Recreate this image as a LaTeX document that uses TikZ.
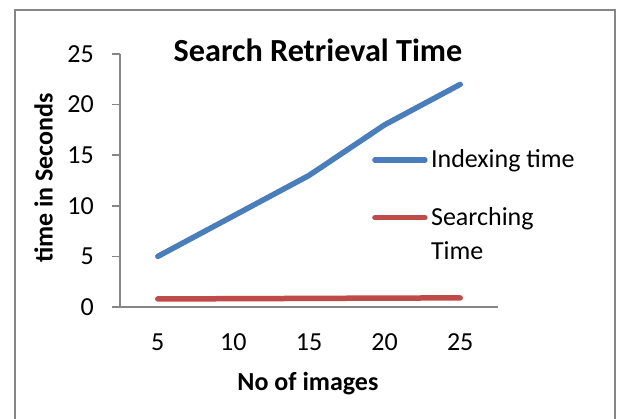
\documentclass[tikz,border=0pt]{standalone}
\usepackage{fontspec}
\setmainfont{Carlito}
\definecolor{idxblue}{RGB}{74,126,187}
\definecolor{srchred}{RGB}{190,75,72}
\definecolor{axisgray}{RGB}{134,134,134}
\begin{document}
\begin{tikzpicture}[x=15.12bp,y=10.12bp,
  lab/.style={font=\fontsize{26bp}{33.6bp}\selectfont,inner sep=0pt},
  boldlab/.style={font=\fontsize{26bp}{33.6bp}\selectfont\bfseries,inner sep=0pt},
  series/.style={line width=5.5bp,line cap=round,line join=round}]
\clip (-5.437,-11.067) rectangle (35.37,30.336);
\draw[axisgray,line width=2bp] (-4.44,-13) -- (-4.44,29.35) -- (35.27,29.35) -- (35.27,-13);
\draw[axisgray,line width=1.5bp] (2.5,25) -- (2.5,0) -- (27.5,0);
\foreach \y in {0,5,...,25} \draw[axisgray,line width=1.5bp] (1.97,\y) -- (2.5,\y);
\foreach \y in {0,5,...,25} \node[lab,anchor=east] (ytick\y) at (0.78,\y) {\y};
\foreach \x in {5,10,...,25} \node[lab,anchor=base] (xtick\x) at (\x,-4.25) {\x};
\draw[series,idxblue] (5,5) -- (10,9) -- (15,13) -- (20,18) -- (25,22);
\draw[series,srchred] (5,0.8) -- (10,0.82) -- (15,0.85) -- (20,0.88) -- (25,0.9);
\node[font=\fontsize{32.2bp}{36bp}\selectfont\bfseries,inner sep=0pt,anchor=base] (title) at (15.6,24.24) {Search Retrieval Time};
\node[boldlab,anchor=base] (xlabel) at (14.93,-8.27) {No of images};
\node[boldlab,anchor=base,rotate=90] (ylabel) at (-1.95,12.75) {time in Seconds};
% legend
\node[lab,anchor=base west] (idxkey) at (23.06,13.80) {Indexing time};
\node[lab,anchor=base west,align=left] (srchkey) at (23.06,4.71) {Searching\\Time};
\coordinate (idxstart) at (19.36,14.53);
\coordinate (srchstart) at (19.36,8.82);
\draw[series,idxblue] (idxstart) -- ([xshift=-6bp]idxkey.west |- idxstart);
\draw[series,srchred] (srchstart) -- ([xshift=-6bp]srchkey.west |- srchstart);
\end{tikzpicture}
\end{document}
